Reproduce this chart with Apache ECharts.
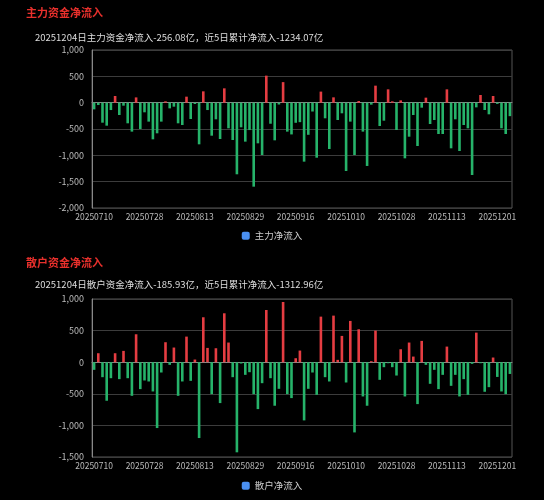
<!DOCTYPE html>
<html><head><meta charset="utf-8">
<script src="https://cdn.jsdelivr.net/npm/echarts@6/dist/echarts.min.js"></script>
<style>html,body{margin:0;padding:0;background:#000;}#c{width:544px;height:500px;}</style>
</head><body><div id="c"></div>
<script>
const dates = ['20250710','20250711','20250714','20250715','20250716','20250717','20250718','20250721','20250722','20250723','20250724','20250725','20250728','20250729','20250730','20250731',
'20250801','20250804','20250805','20250806','20250807','20250808','20250811','20250812','20250813','20250814','20250815','20250818','20250819','20250820','20250821','20250822','20250825','20250826','20250827','20250828','20250829',
'20250901','20250902','20250903','20250904','20250905','20250908','20250909','20250910','20250911','20250912','20250915','20250916','20250917','20250918','20250919','20250922','20250923','20250924','20250925','20250926','20250929','20250930',
'20251009','20251010','20251013','20251014','20251015','20251016','20251017','20251020','20251021','20251022','20251023','20251024','20251027','20251028','20251029','20251030','20251031',
'20251103','20251104','20251105','20251106','20251107','20251110','20251111','20251112','20251113','20251114','20251117','20251118','20251119','20251120','20251121','20251124','20251125','20251126','20251127','20251128',
'20251201','20251202','20251203','20251204'];

const mainFlow = [-127,-45,-380,-437,-140,127,-234,-57,-392,-550,
100,-500,-183,-360,-696,-582,-360,25,-108,-76,
-392,-424,114,-310,-25,-791,215,-140,-627,-316,
-690,272,-487,-709,-1360,-468,-740,-520,-1595,-772,
-994,513,-400,-715,-35,390,-550,-603,-382,-370,
-1120,-610,-168,-1045,210,-297,-880,101,-329,-202,
-1297,-360,-994,32,-550,-1202,-38,323,-443,-342,
253,25,-519,44,-1057,-646,-234,-823,-95,95,
-405,-329,-595,-595,253,-867,-316,-918,-424,-487,
-1373,-89,146,-139,-221,127,-23,-487,-595,-256.08];

const retailFlow = [-121,142,-237,-610,-253,142,-268,179,-253,-532,
442,-426,-289,-305,-463,-1042,-163,316,-42,232,
-532,-305,405,-295,42,-1200,711,226,-505,221,
-647,774,311,-237,-1426,-21,-200,-158,-505,-742,
-332,826,-253,-689,-421,953,-505,-568,63,184,
-921,-421,-163,-516,721,-237,-305,737,37,416,
-321,653,-1111,521,-542,-689,16,500,-279,-79,
-16,-79,-211,205,-542,311,89,-663,337,-42,
-342,-121,-426,-200,247,-374,-200,-542,-268,-516,
-26,468,-16,-468,-395,74,-233,-463,-505,-185.93];

const titles = ['主力资金净流入','散户资金净流入'];
const subtitles = ['20251204日主力资金净流入-256.08亿，近5日累计净流入-1234.07亿',
                   '20251204日散户资金净流入-185.93亿，近5日累计净流入-1312.96亿'];
const seriesNames = ['主力净流入','散户净流入'];
const yMin = [-2000,-1500], yMax = [1000,1000], yStep = 500;

const UP = '#e53d42', DOWN = '#26b36a', FONT = '"Noto Sans CJK SC","Noto Sans",sans-serif';
const colored = arr => arr.map(v => ({value: v, itemStyle: {color: v >= 0 ? UP : DOWN}}));
const fmt = v => v.toLocaleString('en-US');

const chart = echarts.init(document.getElementById('c'), null, {renderer: 'canvas'});
const gridTops = [50, 299], gridBottoms = [208, 457];
chart.setOption({
  backgroundColor: '#000',
  textStyle: {fontFamily: FONT},
  title: [
    {text: titles[0], left: 21, top: 2, textStyle: {color: '#e8302c', fontSize: 11, fontWeight: 'bold', fontFamily: FONT}},
    {text: subtitles[0], left: 30, top: 28, textStyle: {color: '#dddddd', fontSize: 9.5, fontWeight: 'normal', fontFamily: FONT}},
    {text: titles[1], left: 21, top: 252, textStyle: {color: '#e8302c', fontSize: 11, fontWeight: 'bold', fontFamily: FONT}},
    {text: subtitles[1], left: 30, top: 275, textStyle: {color: '#dddddd', fontSize: 9.5, fontWeight: 'normal', fontFamily: FONT}}
  ],
  legend: [
    {data: [seriesNames[0]], left: 'center', top: 226, itemWidth: 8, itemHeight: 8, itemGap: 4, icon: 'roundRect',
     textStyle: {color: '#cccccc', fontSize: 9.5, fontFamily: FONT}},
    {data: [seriesNames[1]], left: 'center', top: 476, itemWidth: 8, itemHeight: 8, itemGap: 4, icon: 'roundRect',
     textStyle: {color: '#cccccc', fontSize: 9.5, fontFamily: FONT}}
  ],
  grid: [0,1].map(k => ({left: 92, right: 32, top: gridTops[k], height: gridBottoms[k] - gridTops[k], show: true, borderColor: '#555', borderWidth: 1, backgroundColor: 'transparent'})),
  xAxis: [0,1].map(k => ({type: 'category', gridIndex: k, data: dates,
    axisLine: {lineStyle: {color: '#888'}}, axisTick: {show: false},
    axisLabel: {color: '#bbbbbb', fontSize: 8.5, interval: 11, margin: 5, fontFamily: FONT}})),
  yAxis: [0,1].map(k => ({type: 'value', gridIndex: k, min: yMin[k], max: yMax[k], interval: yStep,
    axisLine: {show: true, lineStyle: {color: '#888'}}, axisTick: {show: false},
    splitLine: {lineStyle: {color: '#3c3c3c'}},
    axisLabel: {color: '#bbbbbb', fontSize: 9, margin: 8, formatter: fmt, fontFamily: FONT}})),
  series: [
    {name: seriesNames[0], type: 'bar', xAxisIndex: 0, yAxisIndex: 0, data: colored(mainFlow), barWidth: '62%', itemStyle: {color: '#4a8ff0'}},
    {name: seriesNames[1], type: 'bar', xAxisIndex: 1, yAxisIndex: 1, data: colored(retailFlow), barWidth: '62%', itemStyle: {color: '#4a8ff0'}}
  ]
});
</script></body></html>
